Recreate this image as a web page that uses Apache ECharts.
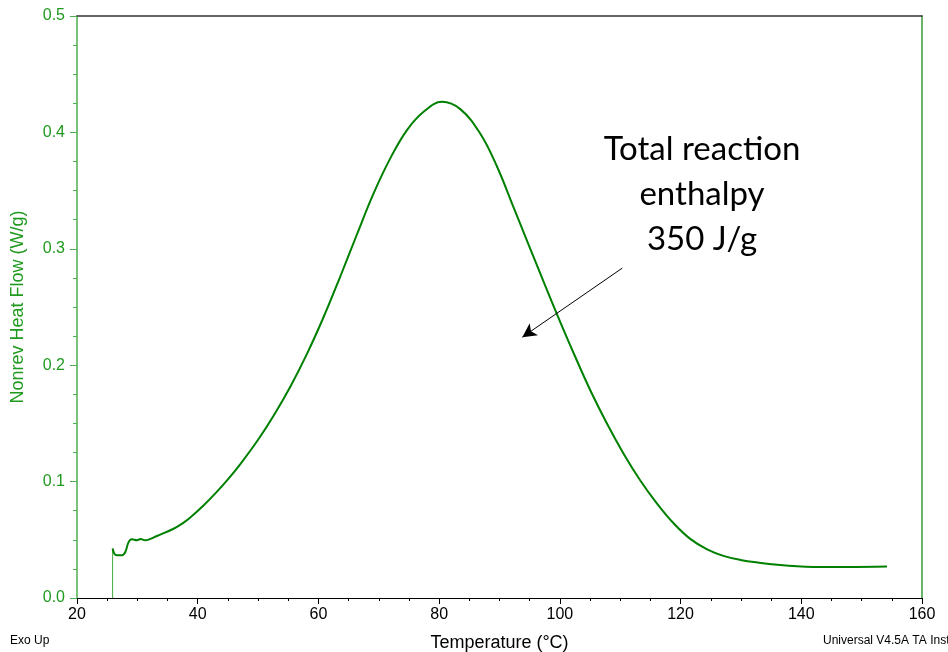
<!DOCTYPE html>
<html>
<head>
<meta charset="utf-8">
<script src="https://cdn.jsdelivr.net/npm/echarts@6/dist/echarts.min.js"></script>
<style>html,body{margin:0;padding:0;background:#fff;}#c{width:948px;height:652px;}</style>
</head>
<body>
<div id="c"></div>
<script>
// Vertical start-up segment
var startTemps = [25.9, 25.9];
var startFlows = [0, 0.0425];
// Main curve: Temperature (°C) vs Nonrev Heat Flow (W/g)
var temps = [25.9, 26.2, 26.6, 27.45, 28.0, 28.55, 29.1, 29.94, 30.5, 31.3, 31.87, 33.25, 36.0, 37.66, 38.77, 41.0, 43.0, 45.0, 47.06, 50.0, 52.57, 55.34, 58.1, 60.86, 63.62, 66.39, 69.14, 71.9, 74.67, 77.43, 80.47, 83.5, 86.8, 89.6, 92.3, 95.1, 97.87, 100.07, 102.27, 105.04, 107.8, 110.56, 113.3, 116.1, 118.84, 121.6, 124.4, 127.1, 129.9, 133.0, 136.5, 139.3, 142.0, 147.6, 154.2];
var flows = [0.0425, 0.038, 0.0367, 0.0367, 0.0395, 0.048, 0.0505, 0.0496, 0.0507, 0.0496, 0.0502, 0.0533, 0.0595, 0.0648, 0.0692, 0.0797, 0.0903, 0.1019, 0.1151, 0.1360, 0.1566, 0.1815, 0.2097, 0.2414, 0.2762, 0.3125, 0.3476, 0.3777, 0.402, 0.4177, 0.4263, 0.4200, 0.399, 0.3705, 0.336, 0.300, 0.2645, 0.237, 0.2105, 0.1785, 0.1499, 0.124, 0.1012, 0.0811, 0.0642, 0.0508, 0.0418, 0.0362, 0.0327, 0.0303, 0.0283, 0.0272, 0.0267, 0.0266, 0.027];
// Annotation arrow (data coordinates)
var arrowFrom = [110.34, 0.2834];
var arrowTo = [93.78, 0.2241];
var annotationLines = ['Total reaction', 'enthalpy', '350 J/g'];

var chart = echarts.init(document.getElementById('c'), null, {renderer: 'canvas'});
function zip(a, b) { return a.map(function (v, i) { return [v, b[i]]; }); }
var GREEN_AX = '#4cae4c';
var GREEN_TXT = '#1f9a1f';
var FONT = 'Liberation Sans, Arial, sans-serif';

chart.setOption({
  animation: false,
  backgroundColor: '#ffffff',
  grid: {left: 77, right: 26, top: 16, bottom: 54, containLabel: false, outerBoundsMode: 'none'},
  xAxis: [{
    type: 'value', min: 20, max: 160, interval: 20, position: 'bottom',
    axisLine: {show: true, onZero: false, lineStyle: {color: '#000', width: 1}},
    axisTick: {show: true, inside: false, length: 6, lineStyle: {color: '#000'}},
    minorTick: {show: true, splitNumber: 4, length: 3, lineStyle: {color: '#000'}},
    splitLine: {show: false},
    axisLabel: {color: '#000', fontSize: 16, fontFamily: FONT, margin: 9},
    name: 'Temperature (°C)', nameLocation: 'middle', nameGap: 36,
    nameTextStyle: {color: '#000', fontSize: 18, fontFamily: FONT}
  }, {
    type: 'value', min: 20, max: 160, position: 'top',
    axisLine: {show: true, onZero: false, lineStyle: {color: '#333', width: 1.5}},
    axisTick: {show: false}, axisLabel: {show: false}, splitLine: {show: false}
  }],
  yAxis: [{
    type: 'value', min: 0, max: 0.5, interval: 0.1, position: 'left',
    axisLine: {show: true, onZero: false, lineStyle: {color: GREEN_AX, width: 1.5}},
    axisTick: {show: true, inside: false, length: 7, lineStyle: {color: GREEN_AX}},
    minorTick: {show: true, splitNumber: 4, length: 4, lineStyle: {color: GREEN_AX}},
    splitLine: {show: false},
    axisLabel: {color: GREEN_TXT, fontSize: 16, fontFamily: FONT, margin: 12,
      formatter: function (v) { return v.toFixed(1); }},
    name: 'Nonrev Heat Flow (W/g)', nameLocation: 'middle', nameGap: 50,
    nameTextStyle: {color: GREEN_TXT, fontSize: 18, fontFamily: FONT}
  }, {
    type: 'value', min: 0, max: 0.5, position: 'right',
    axisLine: {show: true, onZero: false, lineStyle: {color: '#3a9a3a', width: 1.5}},
    axisTick: {show: false}, axisLabel: {show: false}, splitLine: {show: false}
  }],
  series: [{
    type: 'line', xAxisIndex: 0, yAxisIndex: 0,
    data: zip(startTemps, startFlows), showSymbol: false, smooth: false,
    lineStyle: {color: '#3fa83f', width: 1}
  }, {
    type: 'line', xAxisIndex: 0, yAxisIndex: 0,
    data: zip(temps, flows), showSymbol: false, smooth: 0.4,
    lineStyle: {color: '#008000', width: 2},
    markLine: {
      silent: true, symbol: ['none', 'arrow'], symbolSize: [11, 14],
      label: {show: false},
      lineStyle: {color: '#000', width: 1, type: 'solid'},
      data: [[{coord: arrowFrom}, {coord: arrowTo}]]
    }
  }],
  graphic: [{
    type: 'text', left: 598, top: 127,
    style: {text: annotationLines.join('\n'), fill: '#000', font: '33px Lato, "Open Sans", sans-serif',
      textAlign: 'center', lineHeight: 45, align: 'center', width: 208}
  }, {
    type: 'text', left: 10, top: 635,
    style: {text: 'Exo Up', fill: '#000', font: '12px ' + FONT}
  }, {
    type: 'text', left: 823, top: 635,
    style: {text: 'Universal V4.5A TA Instruments', fill: '#000', font: '12px ' + FONT}
  }]
});
</script>
</body>
</html>
